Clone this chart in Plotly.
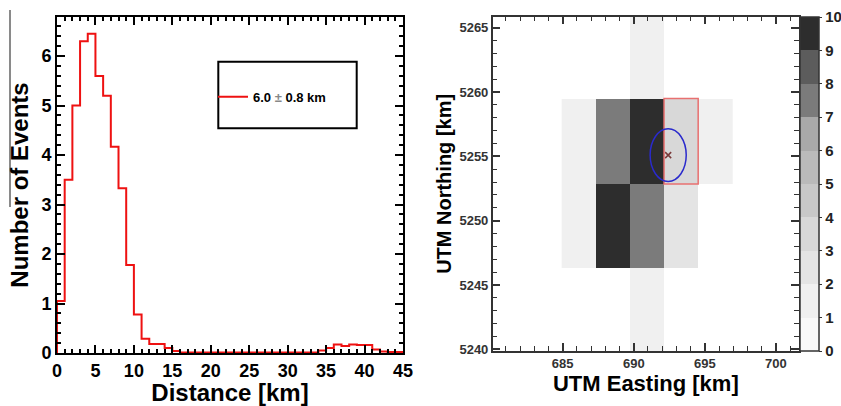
import plotly.graph_objects as go

# ---------------- data ----------------
# Left panel: histogram of distances (1 km bins, 0..45 km)
dist_edges = [0, 1, 2, 3, 4, 5, 6, 7, 8, 9, 10, 11, 12, 13, 14, 15, 16, 17, 18, 19, 20,
              21, 22, 23, 24, 25, 26, 27, 28, 29, 30, 31, 32, 33, 34, 35, 36, 37, 38, 39,
              40, 41, 42, 43, 44, 45]
event_counts = [1.05, 3.5, 5.0, 6.3, 6.45, 5.6, 5.2, 4.17, 3.33, 1.78,
                0.78, 0.29, 0.18, 0.18, 0.10, 0.04, 0.01, 0.01, 0.01, 0.01,
                0.01, 0.01, 0.01, 0.01, 0.01, 0.01, 0.01, 0.01, 0.01, 0.01,
                0.01, 0.01, 0.01, 0.01, 0.05, 0.10, 0.17, 0.14, 0.17, 0.16,
                0.16, 0.07, 0.03, 0.02, 0.02]
legend_label = "6.0 <span style='color:#888888'>±</span> 0.8 km"

# Right panel: 2D map of counts
easting_edges = [684.93, 687.33, 689.73, 692.13, 694.53, 696.93]
northing_edges = [5239.78, 5246.33, 5252.88, 5259.43, 5265.98]
map_counts = [
    [None, None, 1.3, None, None],
    [1.3, 9.6, 7.4, 2.5, None],
    [1.3, 7.4, 9.6, 3.5, 1.3],
    [None, None, 1.3, None, None],
]
best_cell_e = [692.13, 694.53]
best_cell_n = [5252.85, 5259.50]
source_e = [692.42]
source_n = [5255.1]
ellipse_radius_e = 1.27
ellipse_radius_n = 2.05

level_colors = ["#f9f9f9", "#f0f0f0", "#e4e4e4", "#d8d8d8", "#c8c8c8",
                "#bababa", "#a9a9a9", "#7b7b7b", "#5c5c5c", "#2d2d2d"]
cbar_ticks = [0, 1, 2, 3, 4, 5, 6, 7, 8, 9, 10]

# ---------------- figure ----------------
W, H = 841, 406
FONT = "Liberation Sans"

def px_x(p):
    return p / W

def px_y(p):
    return 1 - p / H

fig = go.Figure()

hx = [dist_edges[0]] + dist_edges[:-1] + [dist_edges[-1]]
hy = [0] + event_counts + [event_counts[-1]]
fig.add_trace(go.Scatter(
    x=hx, y=hy, mode="lines", line=dict(color="#ee1111", width=2, shape="hv"),
    name=legend_label, showlegend=True, xaxis="x", yaxis="y", hoverinfo="skip"))

# discrete colourscale
cs = []
n = len(level_colors)
for i, c in enumerate(level_colors):
    cs.append([i / n, c])
    cs.append([(i + 1) / n, c])

fig.add_trace(go.Heatmap(
    x=easting_edges, y=northing_edges, z=map_counts, zmin=0, zmax=10,
    colorscale=cs, xaxis="x2", yaxis="y2", showscale=True, hoverongaps=False,
    colorbar=dict(
        x=px_x(800), xanchor="left", y=px_y(184), yanchor="middle",
        thickness=19, thicknessmode="pixels", len=334, lenmode="pixels",
        xpad=0, ypad=0, outlinecolor="#333333", outlinewidth=1.5,
        tickmode="array", tickvals=cbar_ticks, ticks="outside", ticklen=3,
        tickcolor="#333333",
        tickfont=dict(family=FONT, size=15, color="#222222", weight="bold"))))

fig.add_trace(go.Scatter(
    x=source_e, y=source_n, mode="markers",
    marker=dict(symbol="x-thin", size=6, line=dict(color="#7a3a3a", width=1.5)),
    xaxis="x2", yaxis="y2", showlegend=False, hoverinfo="skip"))

axis_common = dict(showline=True, mirror="allticks", ticks="inside",
                   showgrid=False, zeroline=False, automargin=True)

fig.update_layout(
    width=W, height=H, margin=dict(l=0, r=0, t=0, b=0, autoexpand=False),
    paper_bgcolor="white", plot_bgcolor="white",
    font=dict(family=FONT, color="black"),
    xaxis=dict(domain=[px_x(57), px_x(403)], range=[0, 45], anchor="y",
               tickvals=[0, 5, 10, 15, 20, 25, 30, 35, 40, 45],
               ticklen=8, tickwidth=2, tickcolor="black",
               linecolor="black", linewidth=2,
               minor=dict(dtick=1, ticklen=4, tickwidth=1.5, tickcolor="black", ticks="inside"),
               tickfont=dict(size=18, weight="bold", color="black"),
               title=dict(text="Distance [km]", font=dict(size=24, weight="bold"), standoff=3),
               **axis_common),
    yaxis=dict(domain=[px_y(353), px_y(17)], range=[0, 6.79], anchor="x",
               tickvals=[0, 1, 2, 3, 4, 5, 6],
               ticklen=8, tickwidth=2, tickcolor="black",
               linecolor="black", linewidth=2,
               minor=dict(dtick=0.2, ticklen=4, tickwidth=1.5, tickcolor="black", ticks="inside"),
               tickfont=dict(size=18, weight="bold", color="black"),
               title=dict(text="Number of Events", font=dict(size=24, weight="bold"), standoff=6),
               **axis_common),
    xaxis2=dict(domain=[px_x(492.7), px_x(799)], range=[680.08, 701.62], anchor="y2",
                tickvals=[685, 690, 695, 700],
                ticklen=8, tickwidth=1.5, tickcolor="#333333",
                linecolor="#333333", linewidth=1.5,
                minor=dict(dtick=1, ticklen=5, tickwidth=1, tickcolor="#333333", ticks="inside"),
                tickfont=dict(size=13, weight="bold", color="#333333"),
                title=dict(text="UTM Easting [km]", font=dict(size=22, weight="bold"), standoff=3),
                **axis_common),
    yaxis2=dict(domain=[px_y(351), px_y(16.7)], range=[5239.87, 5265.86], anchor="x2",
                tickvals=[5240, 5245, 5250, 5255, 5260, 5265],
                ticklen=8, tickwidth=1.5, tickcolor="#333333",
                linecolor="#333333", linewidth=1.5,
                minor=dict(dtick=1, ticklen=5, tickwidth=1, tickcolor="#333333", ticks="inside"),
                tickfont=dict(size=13, weight="bold", color="#333333"),
                title=dict(text="UTM Northing [km]", font=dict(size=20, weight="bold"), standoff=2),
                **axis_common),
    legend=dict(x=px_x(213), y=px_y(96.7), xanchor="left", yanchor="middle",
                bgcolor="rgba(0,0,0,0)", borderwidth=0, itemwidth=30,
                font=dict(size=13, weight="bold", color="black")),
    shapes=[
        # legend frame
        dict(type="rect", xref="paper", yref="paper",
             x0=px_x(218.3), x1=px_x(356.7), y0=px_y(128.3), y1=px_y(61.7),
             line=dict(color="black", width=2), fillcolor="rgba(0,0,0,0)"),
        # stray gray line at the left edge of the image
        dict(type="line", xref="paper", yref="paper",
             x0=px_x(10), x1=px_x(10), y0=px_y(10), y1=px_y(207),
             line=dict(color="#8a8a8a", width=2)),
        # best cell outline
        dict(type="rect", xref="x2", yref="y2",
             x0=best_cell_e[0], x1=best_cell_e[1], y0=best_cell_n[0], y1=best_cell_n[1],
             line=dict(color="#e87070", width=1.5)),
        # error ellipse
        dict(type="circle", xref="x2", yref="y2",
             x0=source_e[0] - ellipse_radius_e, x1=source_e[0] + ellipse_radius_e,
             y0=source_n[0] - ellipse_radius_n, y1=source_n[0] + ellipse_radius_n,
             line=dict(color="#2a2acc", width=1.5)),
    ],
)

fig.write_html("out.html")
